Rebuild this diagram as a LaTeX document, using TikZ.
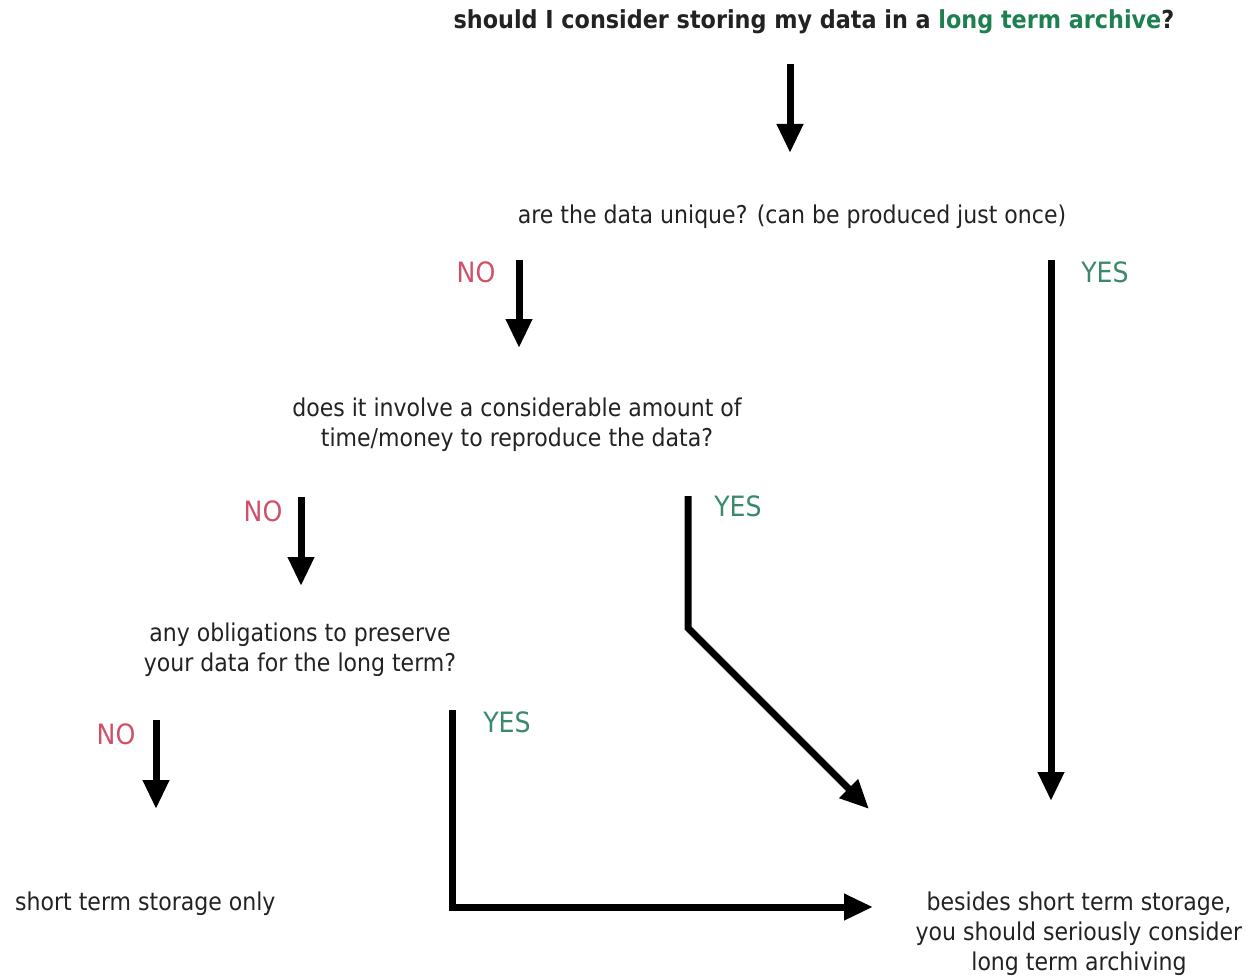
\documentclass[tikz,border=0pt]{standalone}
\usepackage{fontspec}
\setmainfont{DejaVu Sans Condensed}
\usetikzlibrary{arrows.meta}
\definecolor{yesgreen}{HTML}{3A8A6A}
\definecolor{nored}{HTML}{D0506A}
\definecolor{titlegreen}{HTML}{1E8050}
\definecolor{txt}{HTML}{222222}
\tikzset{
  txtnode/.style={inner sep=0pt, text=txt, font=\fontsize{24.5}{30}\selectfont, align=center},
  nolabel/.style={inner sep=0pt, text=nored, font=\fontsize{28}{30}\selectfont},
  yeslabel/.style={inner sep=0pt, text=yesgreen, font=\fontsize{28}{30}\selectfont},
  flow/.style={line width=7pt, draw=black, -{Triangle[length=29pt,width=25pt]}},
}
\begin{document}
\begin{tikzpicture}[x=1pt,y=-1pt]
\useasboundingbox (0,0) rectangle (1246,976);
% texts
\node[txtnode, font=\fontsize{24.8}{30}\selectfont\bfseries] (t) at (814,22) {should I consider storing my data in a \textcolor{titlegreen}{long term archive}?};
\node[txtnode] (q1) at (792,217) {are the data unique? (can be produced just once)};
\node[txtnode] (q2) at (517,425) {does it involve a considerable amount of\\time/money to reproduce the data?};
\node[txtnode] (q3) at (300,650) {any obligations to preserve\\your data for the long term?};
\node[txtnode, anchor=west] (s) at (15,904) {short term storage only};
\node[txtnode] (f) at (1079,934) {besides short term storage,\\you should seriously consider\\long term archiving};
% labels
\node[nolabel] (no1) at (476,272) {NO};
\node[yeslabel] (yes1) at (1105,272) {YES};
\node[nolabel] (no2) at (263,511) {NO};
\node[yeslabel] (yes2) at (738,506) {YES};
\node[nolabel] (no3) at (116,734) {NO};
\node[yeslabel] (yes3) at (507,722) {YES};
% connector coordinates
\coordinate (a0s) at (790,64);  \coordinate (a0e) at (790,153);
\coordinate (n1s) at (519,260); \coordinate (n1e) at (519,348);
\coordinate (y1s) at (1051,260); \coordinate (y1e) at (1051,801);
\coordinate (n2s) at (301,497); \coordinate (n2e) at (301,586);
\coordinate (y2s) at (688,496); \coordinate (y2k) at (688,628); \coordinate (y2e) at (869,809);
\coordinate (n3s) at (156,720); \coordinate (n3e) at (156,809);
\coordinate (y3s) at (452,710); \coordinate (y3k) at (452,907); \coordinate (y3e) at (873,907);
% connectors
\draw[flow] (a0s) -- (a0e);
\draw[flow] (n1s) -- (n1e);
\draw[flow] (y1s) -- (y1e);
\draw[flow] (n2s) -- (n2e);
\draw[flow] (y2s) -- (y2k) -- (y2e);
\draw[flow] (n3s) -- (n3e);
\draw[flow] (y3s) -- (y3k) -- (y3e);
\end{tikzpicture}
\end{document}
